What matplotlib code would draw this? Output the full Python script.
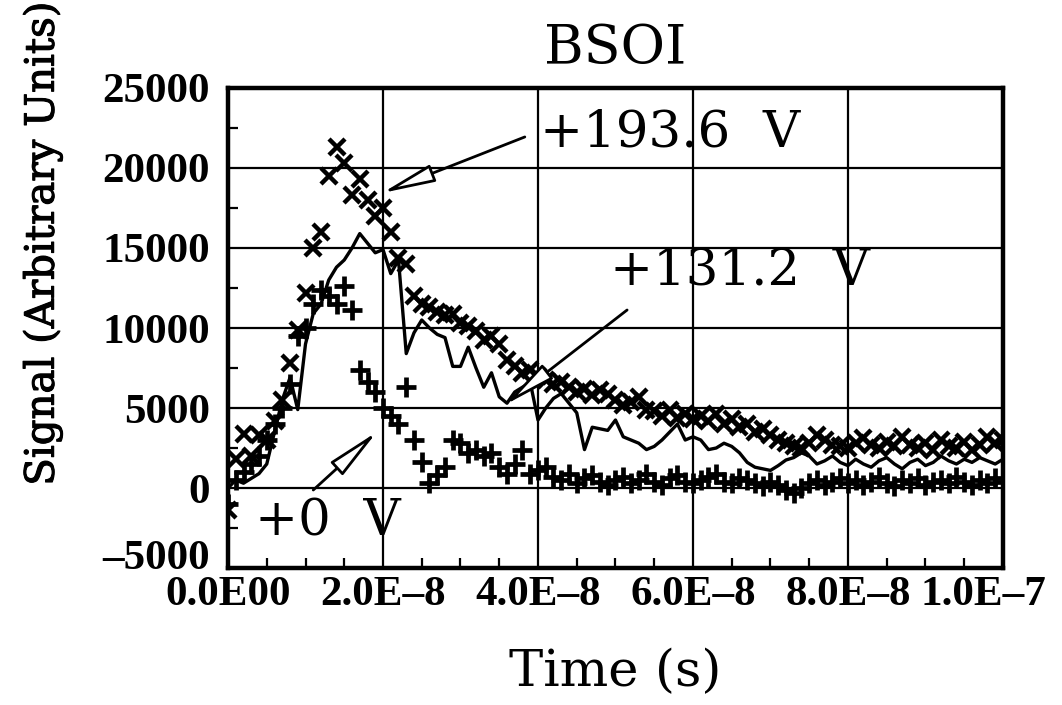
import numpy as np
import matplotlib.pyplot as plt
import matplotlib.patheffects as pe
import matplotlib.transforms as mtransforms
from matplotlib.ticker import MultipleLocator

# время отсчётов, нс (шаг 1 нс)
time_ns = list(range(0, 101))

# +193.6 V, маркеры "x"
sig_193 = [-1400, 1800, 3400, 2000, 3300, 3000, 4200, 5500, 7800, 9900,
           12200, 15000, 16000, 19500, 21300, 20300, 18300, 19300, 18000, 17000,
           17500, 16000, 14400, 14000, 12000, 11500, 11300, 11000, 10800, 10900,
           10300, 10100, 9800, 9250, 9500, 9000, 8000, 7600, 7200, 7400,
           7000, 6750, 6500, 6600, 6300, 6000, 6200, 5800, 6100, 5900,
           5500, 5200, 5400, 5700, 4900, 4800, 4500, 4900, 4400, 4600,
           4300, 4500, 4200, 4600, 4000, 4300, 3800, 4000, 3500, 3700,
           3300, 3000, 2800, 2600, 2500, 2800, 3300, 3000, 2700, 2600,
           2500, 2800, 3100, 2700, 2500, 2900, 2600, 3200, 2700, 2500,
           2800, 2400, 3000, 2600, 2500, 2900, 2400, 2700, 3200, 2800,
           3000]

# +131.2 V, сплошная линия
sig_131 = [0, 500, 300, 600, 900, 1500, 3500, 5500, 6900, 4900,
           9000, 10900, 11500, 13000, 13800, 14250, 15000, 15900, 15300, 14700,
           14900, 13400, 14250, 8400, 9700, 10500, 10000, 9600, 9400, 7600,
           7600, 8800, 7500, 6300, 7200, 5700, 5300, 6000, 6300, 6600,
           4250, 5000, 5600, 5900, 5300, 4700, 2400, 3800, 3700, 3600,
           4250, 3200, 3000, 2800, 2400, 2600, 3000, 3500, 4000, 3000,
           3200, 3000, 2400, 2500, 2800, 2600, 2200, 1600, 1300, 1200,
           1100, 1400, 1750, 1900, 2200, 2000, 1500, 1700, 2000, 1600,
           1400, 1800, 1500, 1300, 1700, 1900, 1500, 1200, 1600, 1800,
           1400, 1600, 2000, 1700, 1500, 1800, 1600, 1900, 1700, 1500,
           1800]

# +0 V, маркеры "+"
sig_0 = [-1000, 500, 1000, 1500, 2000, 3000, 4000, 5000, 6500, 9500,
         10000, 11500, 12400, 12000, 11500, 12600, 11100, 7400, 6600, 6000,
         5000, 4500, 4000, 6300, 3000, 1600, 300, 800, 1300, 3000,
         2800, 2200, 2400, 2000, 2200, 1300, 900, 1500, 2400, 900,
         1100, 1300, 700, 500, 900, 300, 600, 800, 400, 200,
         500, 700, 300, 500, 900, 400, 200, 600, 800, 400,
         300, 500, 700, 900, 400, 300, 600, 500, 300, 100,
         400, 200, -100, -300, 0, 300, 500, 200, 400, 600,
         300, 500, 200, 400, 700, 300, 100, 500, 300, 600,
         200, 400, 500, 300, 700, 400, 200, 500, 300, 600,
         400]

x_ticks = [0.0, 2e-8, 4e-8, 6e-8, 8e-8, 1e-7]
x_labels = ["0.0E00", "2.0E\u20138", "4.0E\u20138", "6.0E\u20138", "8.0E\u20138", "1.0E\u20137"]
y_ticks = [-5000, 0, 5000, 10000, 15000, 20000, 25000]
y_labels = ["\u20135000", "0", "5000", "10000", "15000", "20000", "25000"]

t = np.array(time_ns) * 1e-9

fig = plt.figure(figsize=(10.62, 7.05), dpi=100)
ax = fig.add_axes([0.2147, 0.1943, 0.7297, 0.6809])

ax.plot(t, sig_193, linestyle='none', marker='x', ms=12, mew=3.2, color='black', zorder=3)
ax.plot(t, sig_131, linestyle='-', lw=2.4, color='black', zorder=3)
ax.plot(t, sig_0, linestyle='none', marker='+', ms=14, mew=3.4, color='black', zorder=3)

ax.set_xlim(0, 1e-7)
ax.set_ylim(-5000, 25000)
ax.set_xticks(x_ticks)
ax.set_xticklabels(x_labels)
ax.set_yticks(y_ticks)
ax.set_yticklabels(y_labels)
ax.xaxis.set_minor_locator(MultipleLocator(0.5e-8))
ax.yaxis.set_minor_locator(MultipleLocator(2500))
ax.grid(True, which='major', color='black', lw=1.6)
ax.tick_params(which='both', direction='in', top=False, right=False)
ax.tick_params(which='major', length=0)
ax.tick_params(axis='x', which='major', pad=6)
ax.tick_params(axis='y', which='major', pad=13)
ax.tick_params(which='minor', length=7, width=1.6)
for lbl in ax.get_xticklabels() + ax.get_yticklabels():
    lbl.set_fontfamily('Liberation Serif')
    lbl.set_fontweight('bold')
    lbl.set_fontsize(31)

# последнюю метку по x сдвигаем влево, нижнюю по y — вверх
xl = ax.get_xticklabels()
xl[-1].set_transform(xl[-1].get_transform() +
                     mtransforms.ScaledTranslation(-14 / 72, 0, fig.dpi_scale_trans))
yl = ax.get_yticklabels()
yl[0].set_transform(yl[0].get_transform() +
                    mtransforms.ScaledTranslation(0, 10 / 72, fig.dpi_scale_trans))

for s in ax.spines.values():
    s.set_linewidth(3.2)

ax.set_title('BSOI', family='DejaVu Serif', fontsize=39, pad=17)
ax.set_xlabel('Time (s)', family='DejaVu Serif', fontsize=37, labelpad=24)
ax.set_ylabel('Signal (Arbitrary Units)', family='DejaVu Serif', fontsize=29,
              path_effects=[pe.withStroke(linewidth=0.8, foreground='black')])
ax.yaxis.set_label_coords(-0.214, 0.675)

# подписи напряжений со стрелками
arrow = dict(arrowstyle='-|>,head_length=1.3,head_width=0.22', fc='white', ec='black',
             lw=2.0, mutation_scale=25, shrinkA=0, shrinkB=0)
ax.annotate('', xy=(1.99e-8, 18440), xytext=(3.83e-8, 21940), arrowprops=arrow, zorder=5)
ax.annotate('', xy=(3.57e-8, 5190), xytext=(5.15e-8, 11125), arrowprops=arrow, zorder=5)
ax.annotate('', xy=(1.92e-8, 3500), xytext=(1.10e-8, -125), arrowprops=arrow, zorder=5)
ax.text(4.03e-8, 22200, '+193.6  V', family='DejaVu Serif', fontsize=37,
        va='center', ha='left', zorder=6)
ax.text(4.93e-8, 13600, '+131.2  V', family='DejaVu Serif', fontsize=37,
        va='center', ha='left', zorder=6)
ax.text(0.35e-8, -2125, '+0  V', family='DejaVu Serif', fontsize=37,
        va='center', ha='left', zorder=6)

fig.savefig('out.png', dpi=100)
